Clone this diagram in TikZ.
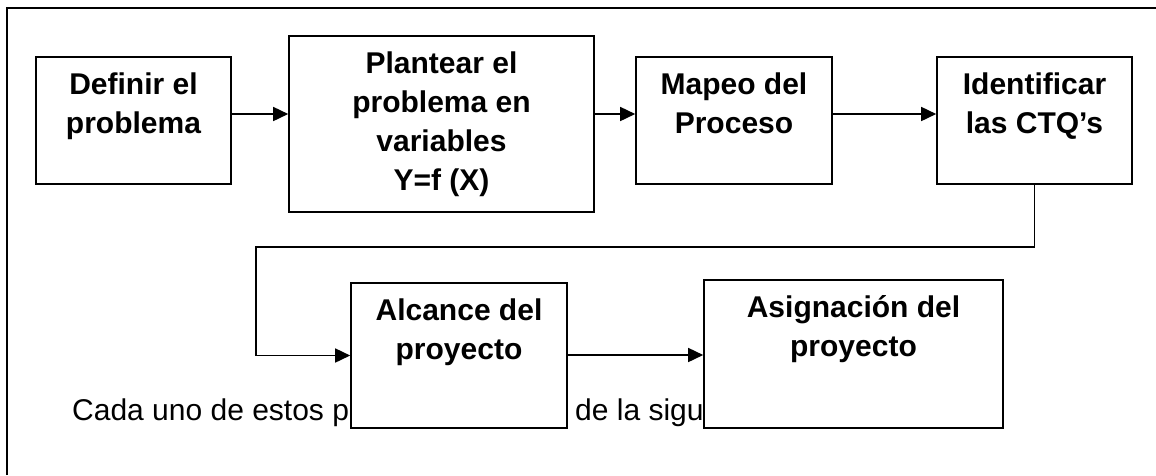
\documentclass[tikz,border=0pt]{standalone}
\usepackage{fontspec}
\setmainfont{Liberation Sans}
\usetikzlibrary{arrows.meta,calc}
\tikzset{
  stepbox/.style={draw, line width=1.6pt, fill=white, inner sep=0pt},
  boxtext/.style={anchor=north, inner sep=0pt, align=center,
    font=\fontsize{30}{39}\selectfont\bfseries},
  plaintext/.style={anchor=base west, inner sep=0pt,
    font=\fontsize{30}{36}\selectfont},
  arr/.style={line width=1.6pt, -{Triangle[length=15pt,width=14pt]}},
  frame/.style={line width=1.8pt}
}
\newcommand{\fs}{\rule{0pt}{24pt}}
\begin{document}
\begin{tikzpicture}[x=1pt,y=-1pt]
\useasboundingbox (0,0) rectangle (1156,475);
\draw[frame] (7,475) -- (7,8) -- (1156,8);

% background sentence (partly hidden by boxes)
\node[plaintext] (s1) at (72,420) {Cada uno de estos pasos};
\node[plaintext] (s2) at (575,420) {de la siguiente};

% boxes
\node[stepbox, minimum width=195, minimum height=127] (b1) at (133.5,120.5) {};
\node[stepbox, minimum width=305, minimum height=176] (b2) at (441.5,124) {};
\node[stepbox, minimum width=196, minimum height=127] (b3) at (734,120.5) {};
\node[stepbox, minimum width=195, minimum height=127] (b4) at (1034.5,120.5) {};
\node[stepbox, minimum width=216, minimum height=145] (b5) at (459,355.5) {};
\node[stepbox, minimum width=299, minimum height=148] (b6) at (853.5,354) {};

% texts
\node[boxtext] (t1) at ($(b1.north)+(0,14)$) {\fs Definir el\\problema};
\node[boxtext] (t2) at ($(b2.north)+(0,14)$) {\fs Plantear el\\problema en\\variables\\Y=f (X)};
\node[boxtext] (t3) at ($(b3.north)+(0,14)$) {\fs Mapeo del\\Proceso};
\node[boxtext] (t4) at ($(b4.north)+(0,14)$) {\fs Identificar\\las CTQ’s};
\node[boxtext] (t5) at ($(b5.north)+(0,14)$) {\fs Alcance del\\proyecto};
\node[boxtext] (t6) at ($(b6.north)+(0,14)$) {\fs Asignación del\\proyecto};

% connectors
\draw[arr] (b1.east |- 0,114) -- (b2.west |- 0,114);
\draw[arr] (b2.east |- 0,114) -- (b3.west |- 0,114);
\draw[arr] (b3.east |- 0,114) -- (b4.west |- 0,114);
\coordinate (c1) at (256,247);
\draw[arr] (b4.south) |- (c1) |- (b5.west);
\draw[arr] (b5.east |- 0,355) -- (b6.west |- 0,355);
\end{tikzpicture}
\end{document}
